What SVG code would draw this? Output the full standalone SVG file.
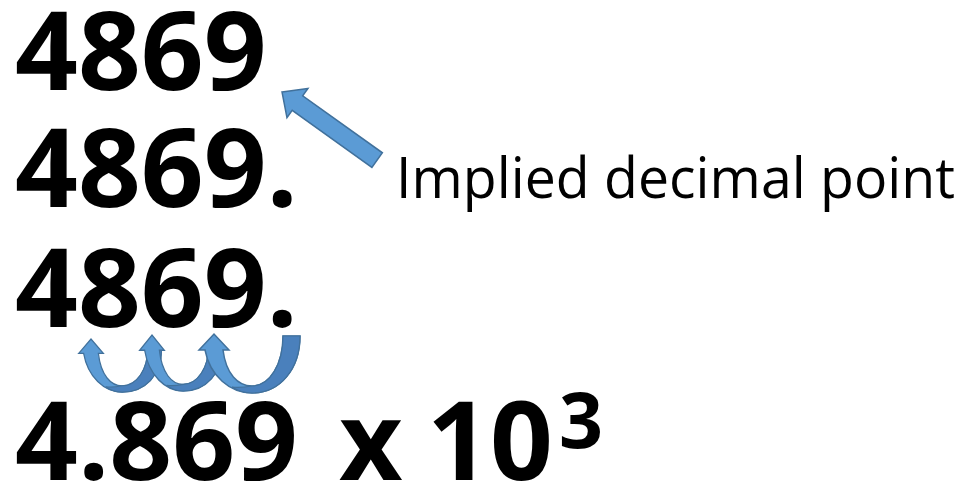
<svg xmlns="http://www.w3.org/2000/svg" width="966" height="486" viewBox="0 0 966 486">
<defs>
<style>
.num{font-family:"Open Sans","Liberation Sans",sans-serif;font-weight:700;font-size:110px;fill:#000}
.sup{font-family:"Open Sans","Liberation Sans",sans-serif;font-weight:700;font-size:77px;fill:#000}
.lbl{font-family:"Open Sans","Liberation Sans",sans-serif;font-weight:400;font-size:57px;fill:#000}
.arr{fill:#5B9BD5;stroke:#41719C;stroke-width:1.5;stroke-linejoin:miter}
.dark{fill:#4A80BC;stroke:#41719C;stroke-width:1.2}
</style>
<path id="cArrow" d="M-15,16 L0,0 L15,16 L9,16 C12,40 24,52 38,52 C56,52 69,34 69,12 L86,12 C86,40 66,59 38,59 C16,59 -4,42 -9,16 Z"/>
<path id="cArrowDark" d="M38,52 C56,52 69,34 69,12 L86,12 C86,40 66,59 38,59 C30,59 24,57 18,53 C26,54 32,53 38,52 Z"/>
</defs>
<rect width="966" height="486" fill="#fff"/>

<g id="row1"><text class="num" x="15" y="90">4869</text></g>
<g id="row2"><text class="num" x="15" y="207">4869.</text></g>
<g id="row3"><text class="num" x="15" y="327">4869.</text></g>
<g id="row4">
<text class="num" x="15" y="480">4.869</text>
<text class="num" x="339" y="480">x</text>
<text class="num" x="427" y="480">10</text>
<text class="sup" x="559" y="448">3</text>
</g>
<g id="label"><text class="lbl" x="396" y="198" textLength="559" lengthAdjust="spacingAndGlyphs">Implied decimal point</text></g>

<g id="connectors">
<path class="arr" transform="translate(282,92) rotate(35.6)" d="M0,0 L19,-18 L19,-9 L117,-9 L117,9 L19,9 L19,18 Z"/>
<g transform="translate(91,339) scale(0.82,0.9)">
<use href="#cArrow" class="arr"/>
<use href="#cArrowDark" class="dark"/>
</g>
<g transform="translate(152,335) scale(0.82,0.95)">
<use href="#cArrow" class="arr"/>
<use href="#cArrowDark" class="dark"/>
</g>
<g transform="translate(214,334)">
<path class="arr" d="M-15,16 L0,0 L15,16 L9,16 C12,40 24,52 38,52 C56,52 69,30 69,2 L86,2 C86,35 66,59 38,59 C16,59 -4,42 -9,16 Z"/>
<path class="dark" d="M38,52 C56,52 69,30 69,2 L86,2 C86,35 66,59 38,59 C30,59 24,57 18,53 C26,54 32,53 38,52 Z"/>
</g>
</g>
</svg>
